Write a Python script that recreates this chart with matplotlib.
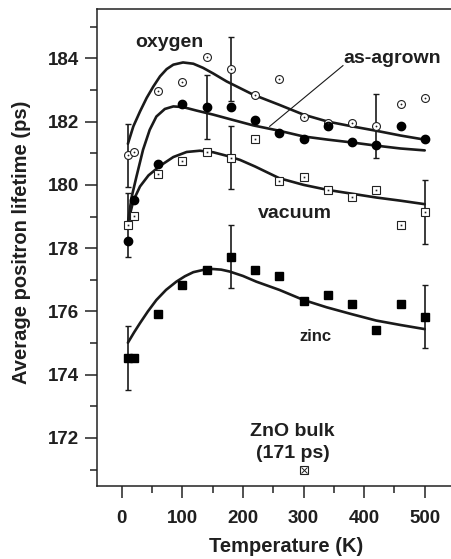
import matplotlib
matplotlib.use("Agg")
import matplotlib.pyplot as plt
import numpy as np

plt.rcParams['font.family'] = ['Liberation Sans', 'DejaVu Sans']
plt.rcParams['font.weight'] = 'bold'

# ---- data ----
temps = [10, 20, 60, 100, 140, 180, 220, 260, 300, 340, 380, 420, 460, 500]
oxygen = [180.93, 181.04, 182.96, 183.25, 184.05, 183.66, 182.84, 183.36, 182.15, 181.95, 181.95, 181.86, 182.56, 182.76]
as_grown = [178.24, 179.53, 180.65, 182.56, 182.46, 182.45, 182.05, 181.65, 181.45, 181.85, 181.34, 181.25, 181.86, 181.45]
vacuum = [178.73, 179.03, 180.34, 180.75, 181.04, 180.86, 181.44, 180.13, 180.25, 179.84, 179.63, 179.84, 178.73, 179.14]
zinc = [174.53, 174.53, 175.92, 176.83, 177.31, 177.73, 177.32, 177.13, 176.33, 176.52, 176.23, 175.42, 176.23, 175.83]

# error bars (temperature, value, +/- error)
oxy_err_T = [10, 180, 420]
oxy_err_y = [180.93, 183.66, 181.86]
grown_err_T = [140]
grown_err_y = [182.46]
vac_err_T = [10, 180, 500]
vac_err_y = [178.73, 180.86, 179.14]
zinc_err_T = [10, 180, 500]
zinc_err_y = [174.53, 177.73, 175.83]
err_size = 1.0

# fitted curves
oxy_fit_T = [10, 19, 30, 41, 52, 63, 74, 85, 101, 118, 134, 151, 173, 195, 217, 260, 300, 340, 380, 420, 460, 500]
oxy_fit = [181.3, 181.85, 182.32, 182.75, 183.11, 183.43, 183.66, 183.8, 183.87, 183.83, 183.7, 183.52, 183.27, 183.06, 182.85, 182.53, 182.22, 182.0, 181.85, 181.71, 181.56, 181.43]
grown_fit_T = [10, 16, 24, 35, 46, 57, 71, 85, 101, 123, 151, 178, 217, 260, 300, 340, 380, 420, 460, 500]
grown_fit = [178.8, 179.6, 180.25, 181.11, 181.74, 182.16, 182.4, 182.48, 182.46, 182.35, 182.22, 182.08, 181.88, 181.71, 181.53, 181.43, 181.34, 181.24, 181.15, 181.09]
vac_fit_T = [10, 19, 30, 44, 63, 85, 107, 129, 151, 173, 195, 220, 260, 300, 340, 380, 420, 460, 500]
vac_fit = [178.8, 179.5, 179.95, 180.3, 180.6, 180.88, 181.04, 181.08, 181.03, 180.92, 180.79, 180.58, 180.21, 180.0, 179.84, 179.72, 179.6, 179.5, 179.39]
zinc_fit_T = [10, 20, 30, 43, 57, 73, 90, 104, 118, 134, 150, 164, 178, 200, 222, 260, 300, 338, 380, 420, 460, 500]
zinc_fit = [175.01, 175.33, 175.63, 176.0, 176.36, 176.68, 176.94, 177.11, 177.24, 177.31, 177.34, 177.32, 177.26, 177.12, 176.94, 176.68, 176.36, 176.13, 175.91, 175.71, 175.57, 175.44]

bulk_T = [300]
bulk_y = [171.0]

# ---- figure ----
fig = plt.figure(figsize=(4.52, 5.59), dpi=100)
ax = fig.add_axes([97/452, 73/559, 355/452, 477/559])

lc = '#1a1a1a'
lw_fit = 1.9

for T, y in [(oxy_fit_T, oxy_fit), (grown_fit_T, grown_fit), (vac_fit_T, vac_fit), (zinc_fit_T, zinc_fit)]:
    ax.plot(T, y, color=lc, lw=lw_fit, solid_capstyle='round', solid_joinstyle='round', zorder=2)

ekw = dict(fmt='none', ecolor=lc, elinewidth=1.2, capsize=2.2, capthick=1.0, zorder=3)
for T, y in [(oxy_err_T, oxy_err_y), (grown_err_T, grown_err_y), (vac_err_T, vac_err_y), (zinc_err_T, zinc_err_y)]:
    ax.errorbar(T, y, yerr=[err_size]*len(T), **ekw)

# open circles with dot (oxygen)
ax.plot(temps, oxygen, 'o', ms=5.7, mfc='white', mec='#222222', mew=0.8, ls='none', zorder=4)
ax.plot(temps, oxygen, 'o', ms=1.3, mfc='#222222', mec='#222222', mew=0, ls='none', zorder=5)
# filled circles (as-grown)
ax.plot(temps, as_grown, 'o', ms=6.0, mfc='black', mec='black', ls='none', zorder=4)
# open squares with dot (vacuum)
ax.plot(temps, vacuum, 's', ms=5.3, mfc='white', mec='#222222', mew=0.8, ls='none', zorder=4)
ax.plot(temps, vacuum, 's', ms=1.2, mfc='#222222', mec='#222222', mew=0, ls='none', zorder=5)
# filled squares (zinc)
ax.plot(temps, zinc, 's', ms=5.8, mfc='black', mec='black', ls='none', zorder=4)
# ZnO bulk: boxed X
ax.plot(bulk_T, bulk_y, 's', ms=5.5, mfc='white', mec='#222222', mew=0.8, ls='none', zorder=4)
ax.plot(bulk_T, bulk_y, 'x', ms=4.0, mec='#222222', mew=0.7, ls='none', zorder=5)

# annotations
tc = '#1f1f1f'
ax.text(79, 184.49, 'oxygen', ha='center', va='center', fontsize=14, fontweight='bold', color=tc)
ax.text(447, 184.01, 'as-agrown', ha='center', va='center', fontsize=14, fontweight='bold', color=tc)
ax.plot([365, 244], [183.77, 181.85], color=lc, lw=0.8, zorder=2)
ax.text(285, 179.1, 'vacuum', ha='center', va='center', fontsize=14, fontweight='bold', color=tc)
ax.text(319, 175.2, 'zinc', ha='center', va='center', fontsize=12, fontweight='bold', color=tc)
ax.text(282, 172.2, 'ZnO bulk', ha='center', va='center', fontsize=14, fontweight='bold', color=tc)
ax.text(283, 171.5, '(171 ps)', ha='center', va='center', fontsize=14, fontweight='bold', color=tc)

# axes styling
ax.set_xlim(-41, 545)
ax.set_ylim(170.48, 185.56)
ax.set_xticks([0, 100, 200, 300, 400, 500])
ax.set_xticks([50, 150, 250, 350, 450], minor=True)
ax.set_yticks([172, 174, 176, 178, 180, 182, 184])
ax.set_yticks([171, 173, 175, 177, 179, 181, 183, 185], minor=True)
ax.spines['right'].set_visible(False)
for s in ['left', 'bottom', 'top']:
    ax.spines[s].set_linewidth(1.1)
    ax.spines[s].set_color('#222222')
ax.tick_params(which='major', direction='out', length=8.6, width=1.1, color='#222222',
               labelsize=13.5, labelcolor=tc)
ax.tick_params(which='minor', direction='out', length=5, width=1.1, color='#222222')
ax.tick_params(axis='x', which='major', pad=9)
ax.tick_params(axis='y', which='major', pad=4)
for lab in ax.get_xticklabels() + ax.get_yticklabels():
    lab.set_fontweight('bold')

ax.set_xlabel('Temperature (K)', fontsize=14.5, fontweight='bold', color=tc)
ax.xaxis.set_label_coords(0.534, (486 - 547) / 477)
ax.set_ylabel('Average positron lifetime (ps)', fontsize=14.5, fontweight='bold', color=tc)
ax.yaxis.set_label_coords((22 - 97) / 355, 0.511)
ax.xaxis.label.set_va('center')
ax.yaxis.label.set_va('center')

fig.savefig('out.png', dpi=100)
